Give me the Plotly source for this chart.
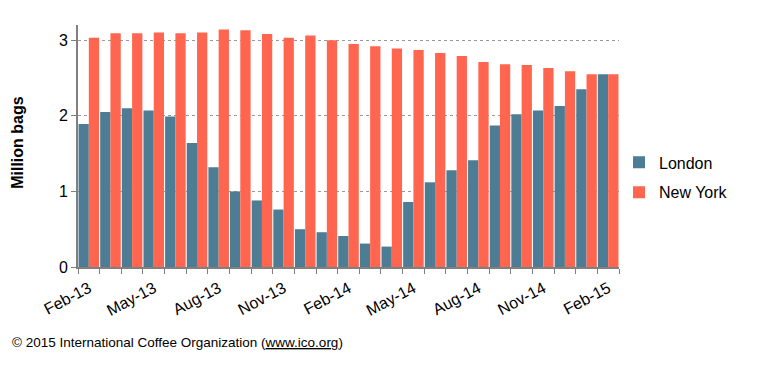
import plotly.graph_objects as go

months = ["Feb-13", "Mar-13", "Apr-13", "May-13", "Jun-13", "Jul-13", "Aug-13", "Sep-13",
          "Oct-13", "Nov-13", "Dec-13", "Jan-14", "Feb-14", "Mar-14", "Apr-14", "May-14",
          "Jun-14", "Jul-14", "Aug-14", "Sep-14", "Oct-14", "Nov-14", "Dec-14", "Jan-15", "Feb-15"]
london = [1.89, 2.05, 2.10, 2.07, 1.99, 1.64, 1.32, 1.00, 0.88, 0.76, 0.50, 0.46, 0.41,
          0.31, 0.27, 0.86, 1.12, 1.28, 1.41, 1.87, 2.02, 2.07, 2.13, 2.35, 2.55]
new_york = [3.03, 3.09, 3.09, 3.10, 3.09, 3.10, 3.14, 3.13, 3.08, 3.03, 3.06, 3.00, 2.95,
            2.92, 2.89, 2.87, 2.83, 2.79, 2.71, 2.68, 2.67, 2.63, 2.59, 2.55, 2.55]
y_ticks = [0, 1, 2, 3]

idx = list(range(len(months)))
label_idx = idx[::3]
label_txt = [months[i] for i in label_idx]
boundaries = [i - 0.5 for i in range(len(months) + 1)]

FONT = "Liberation Sans, Arial, sans-serif"

fig = go.Figure()
fig.add_trace(go.Bar(x=idx, y=london, name="London", marker_color="#4D7D94",
                     marker_line_width=0, legendgroup="a"))
fig.add_trace(go.Bar(x=idx, y=new_york, name="New York", marker_color="#FF654F",
                     marker_line_width=0, legendgroup="b"))

# page body has an 8px margin, so the figure is offset by (8, 8)
fig.update_layout(
    width=764, height=361,
    margin=dict(l=70, r=153, t=17, b=102),
    paper_bgcolor="white", plot_bgcolor="white",
    barmode="group", bargap=0.05, bargroupgap=0,
    font=dict(family=FONT, size=16, color="black"),
    legend=dict(x=1.0, xanchor="left", y=0.37, yanchor="middle",
                font=dict(size=16), tracegroupgap=6, itemwidth=30,
                traceorder="grouped", bgcolor="rgba(0,0,0,0)"),
    showlegend=True,
)
fig.update_xaxes(
    range=[-0.5, len(months) - 0.5],
    tickmode="array", tickvals=label_idx, ticktext=label_txt,
    tickangle=-28, ticks="", showgrid=False, zeroline=False,
    showline=True, linecolor="#808080", linewidth=2,
    tickfont=dict(size=16), ticklabelstandoff=4,
    minor=dict(tickmode="array", tickvals=boundaries, ticks="outside",
               ticklen=5, tickwidth=1, tickcolor="#808080", showgrid=False),
)
fig.update_yaxes(
    range=[0, 3.2], tickvals=y_ticks, ticks="outside", ticklen=5, tickcolor="#808080",
    showgrid=True, gridcolor="#9a9a9a", griddash="dot", gridwidth=1,
    zeroline=False, showline=True, linecolor="#808080", linewidth=2,
    tickfont=dict(size=16),
)
fig.add_annotation(text="<b>Million bags</b>", textangle=-90, xref="paper", yref="paper",
                   x=-0.111, y=0.517, xanchor="center", yanchor="middle",
                   showarrow=False, font=dict(size=16))
fig.add_annotation(text="© 2015 International Coffee Organization (<u>www.ico.org</u>)",
                   xref="paper", yref="paper", x=-0.1257, y=-0.314,
                   xanchor="left", yanchor="middle", showarrow=False,
                   font=dict(size=13.5))

fig.write_html("out.html")
